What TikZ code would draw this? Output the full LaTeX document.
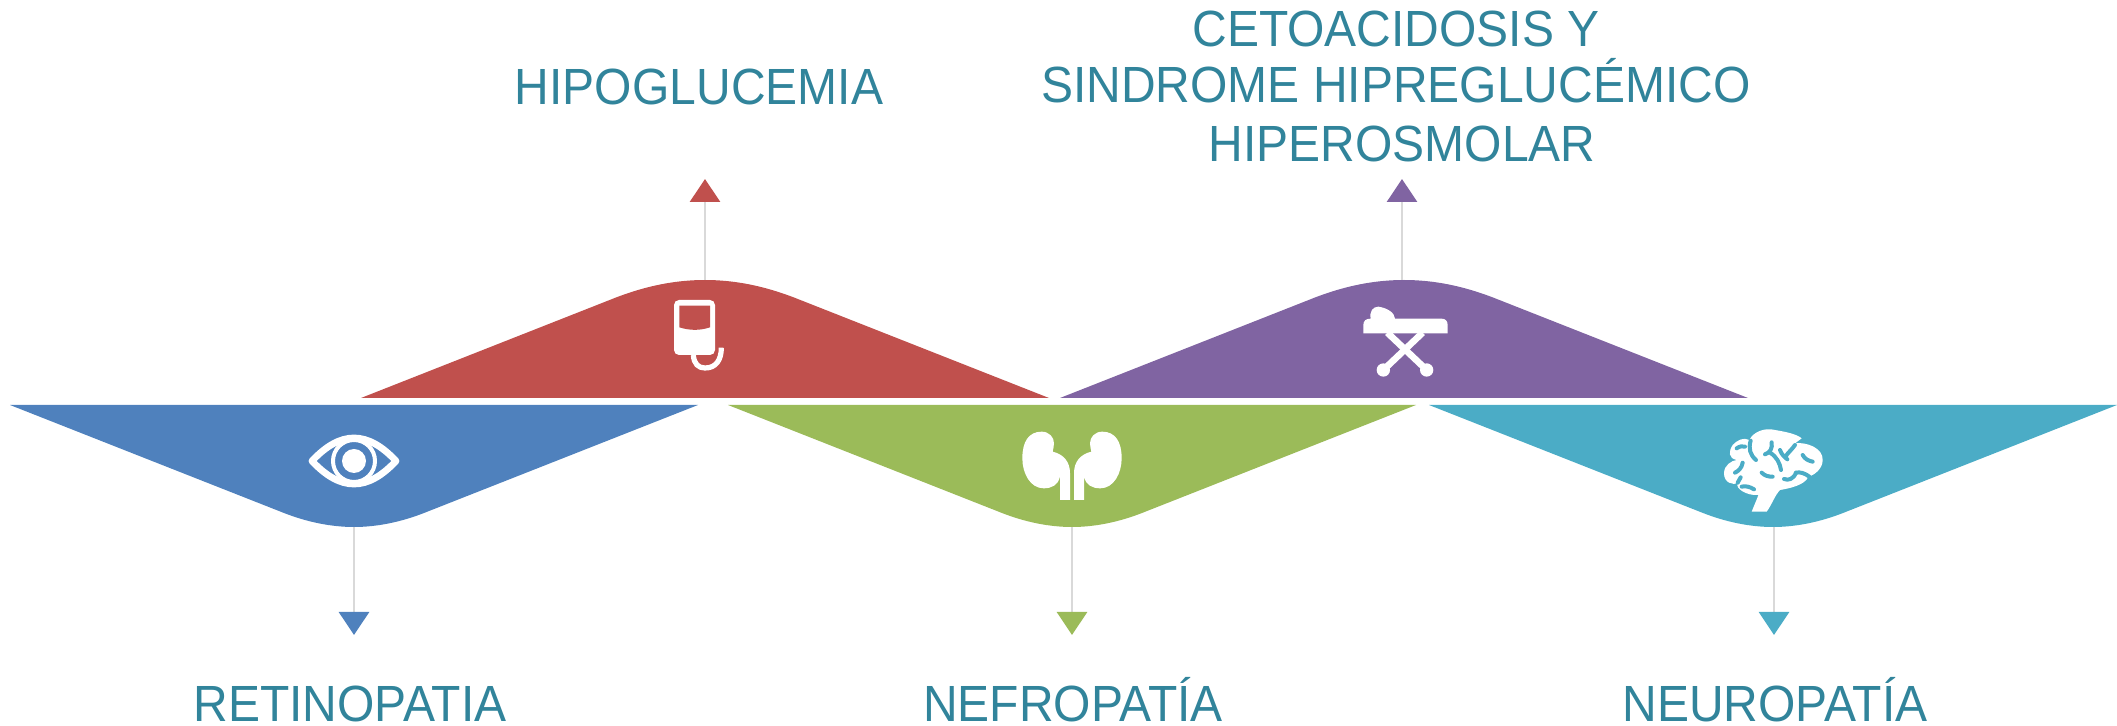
\documentclass[tikz,border=0pt]{standalone}
\usepackage{fontspec}
\setmainfont{Liberation Sans}
\usetikzlibrary{arrows.meta}
\definecolor{cblue}{HTML}{4F81BD}
\definecolor{cred}{HTML}{C0504D}
\definecolor{cgreen}{HTML}{9BBB59}
\definecolor{cpurple}{HTML}{8064A2}
\definecolor{cteal}{HTML}{4BACC6}
\definecolor{ctext}{HTML}{31849B}
\definecolor{cline}{HTML}{D9D9D9}
\newcommand{\tallText}[1]{\scalebox{1}[1.06]{#1}}
\tikzset{
  x=0.5pt,y=-0.5pt,
  lbl/.style={text=ctext,font=\fontsize{24}{29}\selectfont,inner sep=0pt,outer sep=0pt,anchor=base},
  link/.style={draw=cline,line width=1.4pt,-{Triangle[length=11.5pt,width=15pt,color=#1,fill=#1]}},
  icon/.style={x=0.16667pt,y=-0.16667pt},
  white stroke/.style={draw=white,line cap=round,line join=round,line width=#1},
  slit/.style={draw=cteal,line width=2pt,line cap=round,line join=round},
}
% band pointing down: colour, centre x, top y
\newcommand{\bandDown}[3]{%
  \fill[#1] (#2-344,#3) -- (#2+344,#3) -- (#2+70,#3+108)
    .. controls (#2+47,#3+117) and (#2+23,#3+122) .. (#2,#3+122)
    .. controls (#2-23,#3+122) and (#2-47,#3+117) .. (#2-70,#3+108) -- cycle;}
\newcommand{\bandUp}[3]{%
  \fill[#1] (#2-344,#3) -- (#2+344,#3) -- (#2+89,#3-100.5)
    .. controls (#2+59,#3-112) and (#2+30,#3-118) .. (#2,#3-118)
    .. controls (#2-30,#3-118) and (#2-59,#3-112) .. (#2-89,#3-100.5) -- cycle;}
\begin{document}
\begin{tikzpicture}
\useasboundingbox (0,0) rectangle (2117,726);
\bandUp{cred}{705}{398}
\bandUp{cpurple}{1404}{398}
\bandDown{cblue}{354}{405}
\bandDown{cgreen}{1072}{405}
\bandDown{cteal}{1773}{405}

\coordinate (redTop) at (705,280);  \coordinate (redTip) at (705,179);
\coordinate (purTop) at (1402,280); \coordinate (purTip) at (1402,179);
\coordinate (bluBot) at (354,527);  \coordinate (bluTip) at (354,635);
\coordinate (greBot) at (1072,527); \coordinate (greTip) at (1072,635);
\coordinate (teaBot) at (1774,527); \coordinate (teaTip) at (1774,635);
\draw[link=cred] (redTop) -- (redTip);
\draw[link=cpurple] (purTop) -- (purTip);
\draw[link=cblue] (bluBot) -- (bluTip);
\draw[link=cgreen] (greBot) -- (greTip);
\draw[link=cteal] (teaBot) -- (teaTip);

\node[lbl] (t1) at (699,105) {\tallText{HIPOGLUCEMIA}};
\node[lbl] (t2a) at (1396,47) {\tallText{CETOACIDOSIS Y}};
\node[lbl] (t2b) at (1396,103) {\tallText{SINDROME HIPREGLUCÉMICO}};
\node[lbl] (t2c) at (1402,162) {\tallText{HIPEROSMOLAR}};
\node[lbl] (t3) at (350,722) {\tallText{RETINOPATIA}};
\node[lbl] (t4) at (1073,722) {\tallText{NEFROPATÍA}};
\node[lbl] (t5) at (1775,722) {\tallText{NEUROPATÍA}};

% eye
\begin{scope}[shift={(354,461)}]
  \draw[white stroke=3.4pt] (-42,0) .. controls (-28,-15) and (-14,-23) .. (0,-23)
     .. controls (14,-23) and (28,-15) .. (42,0)
     .. controls (28,15) and (14,23) .. (0,23)
     .. controls (-14,23) and (-28,15) .. (-42,0) -- cycle;
  \draw[white stroke=2pt] (0,0) circle [radius=21];
  \fill[white] (0,0) circle [radius=12];
\end{scope}

% bag
\begin{scope}[shift={(660,290)},icon]
  \fill[white,rounded corners=2.5pt] (42,30) rectangle (165,195);
  \fill[cred] (58,47) -- (150,47) -- (150,112) .. controls (120,122) and (90,122) .. (58,112) -- cycle;
  \draw[white stroke=2.6pt,line cap=butt] (100,195) .. controls (102,222) and (115,234) .. (135,234)
     .. controls (168,234) and (184,210) .. (184,173);
\end{scope}

% stretcher
\begin{scope}[shift={(1300,280)},icon]
  \fill[white] (190,160) -- (190,135) .. controls (190,122) and (198,116) .. (212,116)
     .. controls (208,95) and (218,80) .. (235,80) .. controls (262,84) and (284,98) .. (285,116)
     -- (425,116) .. controls (437,116) and (443,124) .. (443,135) -- (443,160) -- cycle;
  \draw[white stroke=3.3pt,line cap=butt] (262,158) -- (380,270);
  \draw[white stroke=3.3pt,line cap=butt] (368,158) -- (250,270);
  \fill[white] (250,270) circle [radius=20];
  \fill[white] (380,270) circle [radius=20];
\end{scope}

% kidneys
\begin{scope}[shift={(980,410)},icon]
  \foreach \s in {1,-1}{
  \begin{scope}[xshift=46pt,x=\s*0.16667pt]
    \fill[white] (-91,65) .. controls (-68,65) and (-54,82) .. (-54,100)
      .. controls (-54,110) and (-57,118) .. (-58,125)
      .. controls (-25,133) and (-6,155) .. (-6,190) -- (-6,270) -- (-36,270) -- (-36,200)
      .. controls (-42,225) and (-60,235) .. (-85,235)
      .. controls (-125,235) and (-149,190) .. (-149,145)
      .. controls (-149,95) and (-130,65) .. (-91,65) -- cycle;
  \end{scope}}
\end{scope}

% brain
\begin{scope}[shift={(1700,420)},icon]
  \fill[white] (155,275)
    .. controls (165,250) and (172,235) .. (175,225)
    .. controls (140,228) and (105,205) .. (113,190)
    .. controls (100,195) and (72,190) .. (72,160)
    .. controls (72,135) and (95,122) .. (110,120)
    .. controls (85,115) and (85,95) .. (98,75)
    .. controls (110,62) and (130,50) .. (148,60)
    .. controls (160,35) and (195,22) .. (225,30)
    .. controls (255,35) and (290,42) .. (305,55) -- (285,70)
    .. controls (320,65) and (370,85) .. (368,120)
    .. controls (368,145) and (345,165) .. (325,170)
    .. controls (315,195) and (270,205) .. (240,210)
    .. controls (225,225) and (215,255) .. (200,275) -- cycle;
  \draw[slit] (110,85) .. controls (120,78) and (128,78) .. (135,80);
  \draw[slit] (128,128) .. controls (125,145) and (115,153) .. (105,158);
  \draw[slit] (152,62) .. controls (145,85) and (150,105) .. (168,120);
  \draw[slit] (215,67) .. controls (218,85) and (210,98) .. (195,103);
  \draw[slit] (210,98) .. controls (230,110) and (240,130) .. (243,150);
  \draw[slit] (240,90) .. controls (245,105) and (255,112) .. (262,118);
  \draw[slit] (258,108) .. controls (262,100) and (270,95) .. (285,75);
  \draw[slit] (308,105) .. controls (315,118) and (325,122) .. (338,125);
  \draw[slit] (185,158) .. controls (195,168) and (205,170) .. (218,170);
  \draw[slit] (252,177) .. controls (265,182) and (280,178) .. (288,158);
  \draw[slit] (288,158) .. controls (300,155) and (315,160) .. (328,170);
  \draw[slit] (125,200) .. controls (135,197) and (150,200) .. (162,208);
  \draw[slit] (122,172) -- (113,188);
\end{scope}
\end{tikzpicture}
\end{document}
